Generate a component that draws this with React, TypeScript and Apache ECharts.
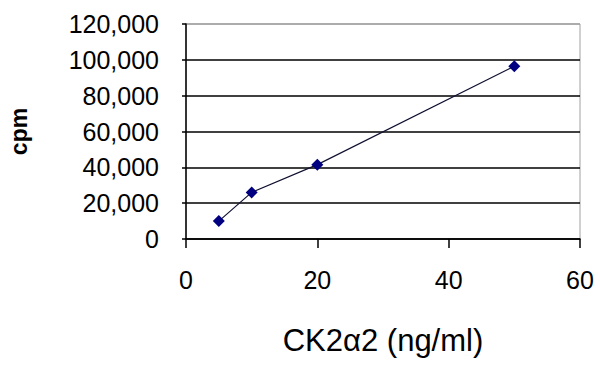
import React, { useEffect, useRef } from "react";
import * as echarts from "echarts";

const concentrations = [5, 10, 20, 50];
const cpmValues = [10000, 26000, 41500, 96400];
const xTicks = [0, 20, 40, 60];
const yTickStep = 20000;
const yMax = 120000;

export default function App() {
  const ref = useRef<HTMLDivElement>(null);
  useEffect(() => {
    if (!ref.current) return;
    const chart = echarts.init(ref.current, undefined, { renderer: "svg" });
    const font = "'Liberation Sans', Arial, sans-serif";
    chart.setOption({
      animation: false,
      backgroundColor: "#ffffff",
      grid: {
        left: 186,
        right: 20,
        top: 24,
        bottom: 133,
        show: true,
        borderColor: "#a0a0a0",
        borderWidth: 1,
        containLabel: false,
        outerBoundsMode: "none",
      },
      xAxis: {
        type: "value",
        min: xTicks[0],
        max: xTicks[xTicks.length - 1],
        interval: xTicks[1] - xTicks[0],
        name: "CK2α2 (ng/ml)",
        nameLocation: "middle",
        nameGap: 86,
        nameTextStyle: { fontFamily: font, fontSize: 31, color: "#000" },
        axisLine: { show: true, lineStyle: { color: "#000", width: 1.5 } },
        axisTick: { show: true, inside: false, length: 9, lineStyle: { color: "#000", width: 1.5 } },
        axisLabel: { fontFamily: font, fontSize: 25, color: "#000", margin: 28 },
        splitLine: { show: false },
      },
      yAxis: {
        type: "value",
        min: 0,
        max: yMax,
        interval: yTickStep,
        name: "cpm",
        nameLocation: "middle",
        nameGap: 156,
        nameRotate: 90,
        nameTextStyle: { fontFamily: font, fontSize: 23, fontWeight: "bold", color: "#000" },
        axisLine: { show: true, lineStyle: { color: "#000", width: 1.5 } },
        axisTick: { show: true, inside: false, length: 4, lineStyle: { color: "#000", width: 1.5 } },
        axisLabel: {
          fontFamily: font,
          fontSize: 25,
          color: "#000",
          margin: 27,
          formatter: (v: number) => v.toLocaleString("en-US"),
        },
        splitLine: {
          show: true,
          lineStyle: {
            color: ["#000", "#000", "#000", "#000", "#000", "#000", "#a0a0a0"],
            width: 1.5,
          },
        },
      },
      series: [
        {
          type: "line",
          data: concentrations.map((c, i) => [c, cpmValues[i]]),
          symbol: "diamond",
          symbolSize: 12,
          itemStyle: { color: "#000080" },
          lineStyle: { color: "#101030", width: 1.2 },
        },
      ],
    });
    return () => chart.dispose();
  }, []);
  return (
    <div
      ref={ref}
      style={{ position: "absolute", left: 0, top: 0, width: 600, height: 372 }}
    />
  );
}
